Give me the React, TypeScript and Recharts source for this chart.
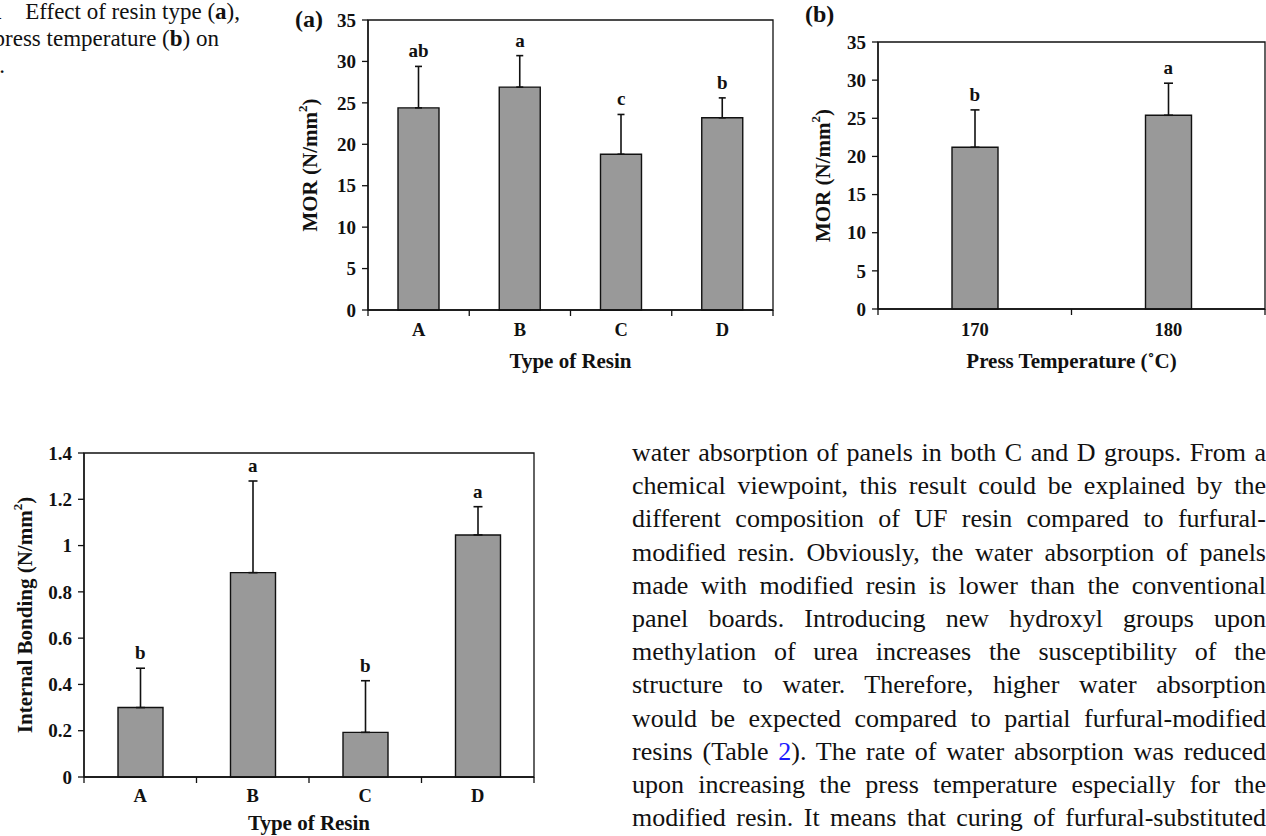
import React from "react";
import {
  Bar,
  ComposedChart,
  ErrorBar,
  LabelList,
  Line,
  ReferenceArea,
  XAxis,
  YAxis,
} from "recharts";

// values
const resinTypes = ["A", "B", "C", "D"];
const morResinMean = [24.4, 26.9, 18.8, 23.2];
const morResinSd = [5.0, 3.8, 4.8, 2.4];
const morResinGroup = ["ab", "a", "c", "b"];

const pressTemps = ["170", "180"];
const morTempMean = [21.2, 25.4];
const morTempSd = [4.9, 4.2];
const morTempGroup = ["b", "a"];

const ibResinMean = [0.3, 0.883, 0.193, 1.046];
const ibResinSd = [0.17, 0.396, 0.223, 0.122];
const ibResinGroup = ["b", "a", "b", "a"];

const morTicks = [0, 5, 10, 15, 20, 25, 30, 35];
const ibTicks = [0, 0.2, 0.4, 0.6, 0.8, 1, 1.2, 1.4];

const FONT = '"Liberation Serif", "Times New Roman", serif';
const INK = "#111";
const BAR_FILL = "#999999";

function buildRows(names: string[], means: number[], sds: number[], groups: string[]) {
  return names.map((name, i) => ({
    name,
    mean: means[i],
    sd: [0, sds[i]],
    top: means[i] + sds[i],
    group: groups[i],
  }));
}

function BandTick(props: any) {
  const { x, y, payload, index, visibleTicksCount, width, dy } = props;
  const half = payload.offset ?? width / visibleTicksCount / 2;
  return (
    <g>
      <line x1={x - half} x2={x - half} y1={y} y2={y + 6} stroke={INK} strokeWidth={1.3} />
      {index === visibleTicksCount - 1 && (
        <line x1={x + half} x2={x + half} y1={y} y2={y + 6} stroke={INK} strokeWidth={1.3} />
      )}
      <text
        x={x}
        y={y + dy}
        textAnchor="middle"
        dominantBaseline="central"
        fontFamily={FONT}
        fontWeight={700}
        fontSize={18.5}
        fill={INK}
      >
        {payload.value}
      </text>
    </g>
  );
}

const renderGroup = (p: any) => (
  <text
    x={p.x}
    y={p.y - 9}
    textAnchor="middle"
    fontFamily={FONT}
    fontWeight={700}
    fontSize={19}
    fill={INK}
  >
    {p.value}
  </text>
);

type PanelProps = {
  rows: any[];
  ticks: number[];
  width: number;
  height: number;
  margin: { top: number; right: number; bottom: number; left: number };
  xAxisHeight: number;
  barSize: number;
  cap: number;
  yTitle: React.ReactNode;
  yTitleX: number;
  xTitle: string;
  xTitleDy: number;
  tickDy: number;
};

function Panel(p: PanelProps) {
  const max = p.ticks[p.ticks.length - 1];
  return (
    <ComposedChart width={p.width} height={p.height} data={p.rows} margin={p.margin}>
      <XAxis
        dataKey="name"
        height={p.xAxisHeight}
        interval={0}
        tickLine={false}
        tickSize={0}
        tickMargin={0}
        axisLine={{ stroke: INK, strokeWidth: 1.3 }}
        tick={(t: any) => <BandTick {...t} dy={p.tickDy} />}
        label={{
          content: ({ viewBox }: any) => (
            <text
              x={viewBox.x + viewBox.width / 2}
              y={viewBox.y + p.xTitleDy}
              textAnchor="middle"
              dominantBaseline="central"
              fontFamily={FONT}
              fontWeight={700}
              fontSize={21}
              fill={INK}
            >
              {p.xTitle}
            </text>
          ),
        }}
      />
      <YAxis
        type="number"
        domain={[0, max]}
        ticks={p.ticks}
        interval={0}
        width={60}
        tickSize={6}
        tickMargin={6}
        axisLine={{ stroke: INK, strokeWidth: 1.3 }}
        tickLine={{ stroke: INK, strokeWidth: 1.3 }}
        tick={{ fill: INK, fontFamily: FONT, fontWeight: 700, fontSize: 19 }}
        label={{
          content: ({ viewBox }: any) => (
            <text
              transform={`translate(${p.yTitleX},${viewBox.y + viewBox.height / 2}) rotate(-90)`}
              textAnchor="middle"
              dominantBaseline="central"
              fontFamily={FONT}
              fontWeight={700}
              fontSize={21}
              fill={INK}
            >
              {p.yTitle}
            </text>
          ),
        }}
      />
      <ReferenceArea y1={0} y2={max} fill="none" stroke={INK} strokeWidth={1.3} />
      <Bar
        dataKey="mean"
        fill={BAR_FILL}
        stroke={INK}
        strokeWidth={1.4}
        barSize={p.barSize}
        isAnimationActive={false}
      >
        <ErrorBar dataKey="sd" direction="y" width={p.cap} stroke={INK} strokeWidth={1.6} />
      </Bar>
      <Line
        dataKey="top"
        stroke="none"
        dot={false}
        activeDot={false}
        legendType="none"
        isAnimationActive={false}
      >
        <LabelList dataKey="group" content={renderGroup} />
      </Line>
    </ComposedChart>
  );
}

const morUnit = (
  <>
    MOR (N/mm<tspan dy={-8} fontSize={13}>2</tspan>
    <tspan dy={8}>)</tspan>
  </>
);

const ibUnit = (
  <>
    Internal Bonding (N/mm<tspan dy={-8} fontSize={13}>2</tspan>
    <tspan dy={8}>)</tspan>
  </>
);

const bodyLines: React.ReactNode[] = [
  "water absorption of panels in both C and D groups. From a",
  "chemical viewpoint, this result could be explained by the",
  "different composition of UF resin compared to furfural-",
  "modified resin. Obviously, the water absorption of panels",
  "made with modified resin is lower than the conventional",
  "panel boards. Introducing new hydroxyl groups upon",
  "methylation of urea increases the susceptibility of the",
  "structure to water. Therefore, higher water absorption",
  "would be expected compared to partial furfural-modified",
  <>
    resins (Table <span style={{ color: "#1a1aff" }}>2</span>). The rate of water absorption was reduced
  </>,
  "upon increasing the press temperature especially for the",
  "modified resin. It means that curing of furfural-substituted",
];

// caption is cut by the page edge in the source, so each line is right-anchored and clipped on the left
function CaptionLine({ top, right, children }: { top: number; right: number; children: React.ReactNode }) {
  return (
    <div
      style={{
        position: "absolute",
        left: 0,
        top,
        width: right,
        height: 27,
        overflow: "hidden",
        display: "flex",
        justifyContent: "flex-end",
        whiteSpace: "nowrap",
        fontFamily: FONT,
        fontSize: 23,
        lineHeight: "27px",
        color: INK,
      }}
    >
      <span>{children}</span>
    </div>
  );
}

export default function App() {
  const morResinRows = buildRows(resinTypes, morResinMean, morResinSd, morResinGroup);
  const morTempRows = buildRows(pressTemps, morTempMean, morTempSd, morTempGroup);
  const ibRows = buildRows(resinTypes, ibResinMean, ibResinSd, ibResinGroup);

  const panelLabel = {
    position: "absolute" as const,
    fontFamily: FONT,
    fontWeight: 700,
    fontSize: 24,
    lineHeight: "24px",
    color: INK,
  };

  return (
    <div
      style={{
        position: "absolute",
        left: 0,
        top: 0,
        width: 1266,
        height: 836,
        background: "#fff",
        overflow: "hidden",
      }}
    >
      <CaptionLine top={-2} right={240}>
        <b>Fig. 1</b>
        {"\u2003"}Effect of resin type (<b>a</b>),
      </CaptionLine>
      <CaptionLine top={25} right={219}>
        press temperature (<b>b</b>) on
      </CaptionLine>
      <CaptionLine top={52} right={5}>
        MOR.
      </CaptionLine>

      <div style={{ ...panelLabel, left: 295, top: 7 }}>(a)</div>
      <div style={{ ...panelLabel, left: 805, top: 2 }}>(b)</div>

      <div style={{ position: "absolute", left: 260, top: 0 }}>
        <Panel
          rows={morResinRows}
          ticks={morTicks}
          width={520}
          height={380}
          margin={{ top: 20, right: 7, bottom: 0, left: 48 }}
          xAxisHeight={70}
          barSize={41}
          cap={3.5}
          yTitle={morUnit}
          yTitleX={50}
          xTitle="Type of Resin"
          xTitleDy={51}
          tickDy={20}
        />
      </div>

      <div style={{ position: "absolute", left: 770, top: 0 }}>
        <Panel
          rows={morTempRows}
          ticks={morTicks}
          width={496}
          height={380}
          margin={{ top: 42, right: 1, bottom: 0, left: 48 }}
          xAxisHeight={71}
          barSize={46}
          cap={4.5}
          yTitle={morUnit}
          yTitleX={53}
          xTitle="Press Temperature (˚C)"
          xTitleDy={52}
          tickDy={21}
        />
      </div>

      <div style={{ position: "absolute", left: 0, top: 400 }}>
        <Panel
          rows={ibRows}
          ticks={ibTicks}
          width={560}
          height={436}
          margin={{ top: 53, right: 26, bottom: 0, left: 24 }}
          xAxisHeight={59}
          barSize={45}
          cap={4.5}
          yTitle={ibUnit}
          yTitleX={25}
          xTitle="Type of Resin"
          xTitleDy={46}
          tickDy={19}
        />
      </div>

      {bodyLines.map((line, i) => (
        <div
          key={i}
          style={{
            position: "absolute",
            left: 632,
            top: 436 + i * 33.2,
            width: 634,
            fontFamily: FONT,
            fontSize: 26,
            lineHeight: "33px",
            textAlign: "justify",
            textAlignLast: "justify",
            color: INK,
          }}
        >
          {line}
        </div>
      ))}
    </div>
  );
}
